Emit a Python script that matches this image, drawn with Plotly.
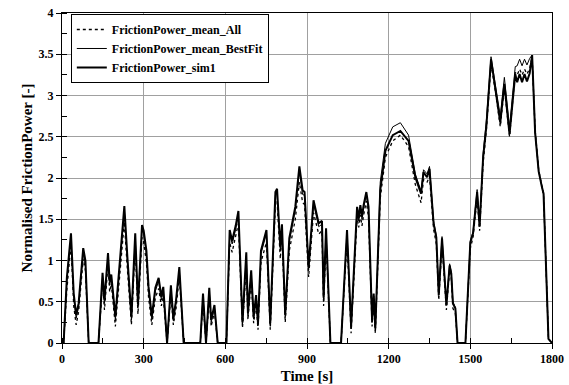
import plotly.graph_objects as go

time_s = [0, 6, 18, 33, 43, 52, 61, 78, 86, 98, 134, 149, 156, 169, 175, 181, 196, 212, 229, 240,
          255, 269, 279, 294, 300, 310, 318, 330, 343, 355, 365, 372, 386, 400, 409, 419, 431, 447, 508, 518,
          529, 541, 548, 560, 572, 604, 616, 625, 638, 648, 663, 677, 683, 695, 704, 713, 720, 731, 751, 765,
          784, 790, 802, 808, 820, 835, 857, 872, 884, 891, 906, 924, 943, 955, 961, 970, 986, 1025, 1047, 1062,
          1084, 1090, 1096, 1102, 1108, 1118, 1126, 1139, 1145, 1151, 1169, 1188, 1215, 1243, 1273, 1298, 1319, 1328, 1341, 1350,
          1365, 1375, 1384, 1396, 1412, 1424, 1430, 1436, 1445, 1453, 1482, 1500, 1510, 1525, 1534, 1547, 1559, 1576, 1592, 1610,
          1625, 1644, 1665, 1672, 1681, 1690, 1699, 1708, 1718, 1727, 1738, 1751, 1763, 1769, 1787, 1800]

sim1 = [0, 0, 0.80, 1.33, 0.60, 0.34, 0.48, 1.15, 1.00, 0, 0, 0.85, 0.52, 1.09, 0.75, 0.83, 0.32, 0.95, 1.66, 1.05,
        0.32, 1.33, 0.47, 1.43, 1.36, 1.12, 0.68, 0.32, 0.67, 0.79, 0.56, 0.68, 0, 0.70, 0.30, 0.52, 0.92, 0, 0, 0.60,
        0, 0.67, 0.28, 0.46, 0, 0, 1.37, 1.24, 1.42, 1.60, 0.25, 1.10, 0.36, 0.88, 0.32, 0.58, 0.24, 1.12, 1.37, 0.24,
        1.83, 1.87, 1.16, 1.44, 0.34, 1.27, 1.65, 2.14, 1.85, 1.83, 0.92, 1.73, 1.45, 1.48, 0.55, 1.39, 0, 0, 1.37, 0.20,
        1.65, 1.51, 1.67, 1.53, 1.67, 1.83, 1.65, 0.28, 0.60, 0.18, 1.85, 2.33, 2.52, 2.57, 2.45, 2.01, 1.81, 2.07, 2.01, 2.11,
        1.45, 1.28, 0.58, 1.27, 0.46, 0.94, 0.84, 0.48, 0.42, 0, 0, 1.22, 1.33, 1.83, 1.41, 2.25, 2.63, 3.44, 3.08, 2.67,
        3.14, 2.53, 3.26, 3.16, 3.26, 3.16, 3.26, 3.17, 3.27, 3.49, 2.55, 2.08, 1.89, 1.81, 0.05, 0]

mean_all = [0, 0, 0.65, 1.20, 0.45, 0.22, 0.38, 1.02, 0.88, 0, 0, 0.72, 0.40, 0.95, 0.62, 0.72, 0.20, 0.80, 1.47, 0.90,
            0.22, 1.18, 0.35, 1.28, 1.22, 0.98, 0.55, 0.22, 0.55, 0.66, 0.45, 0.56, 0, 0.58, 0.22, 0.42, 0.80, 0, 0, 0.50,
            0, 0.56, 0.20, 0.38, 0, 0, 1.22, 1.10, 1.28, 1.45, 0.18, 0.95, 0.28, 0.76, 0.24, 0.48, 0.16, 0.98, 1.22, 0.16,
            1.68, 1.72, 1.02, 1.30, 0.25, 1.12, 1.50, 1.95, 1.70, 1.68, 0.80, 1.58, 1.32, 1.36, 0.45, 1.26, 0, 0, 1.25, 0.12,
            1.52, 1.40, 1.55, 1.42, 1.55, 1.72, 1.52, 0.20, 0.50, 0.12, 1.75, 2.25, 2.45, 2.52, 2.38, 1.92, 1.70, 1.98, 1.95, 2.02,
            1.38, 1.20, 0.52, 1.20, 0.40, 0.88, 0.78, 0.42, 0.36, 0, 0, 1.15, 1.28, 1.76, 1.36, 2.18, 2.58, 3.38, 3.05, 2.62,
            3.10, 2.50, 3.28, 3.25, 3.32, 3.25, 3.32, 3.26, 3.33, 3.46, 2.58, 2.10, 1.90, 1.80, 0.05, 0]

mean_bestfit = [0, 0, 0.75, 1.28, 0.55, 0.30, 0.44, 1.10, 0.95, 0, 0, 0.80, 0.48, 1.04, 0.70, 0.79, 0.28, 0.90, 1.60, 1.00,
                0.28, 1.28, 0.43, 1.38, 1.32, 1.08, 0.64, 0.28, 0.63, 0.75, 0.52, 0.64, 0, 0.66, 0.27, 0.49, 0.88, 0, 0, 0.57,
                0, 0.63, 0.25, 0.43, 0, 0, 1.33, 1.20, 1.38, 1.56, 0.22, 1.06, 0.33, 0.84, 0.29, 0.55, 0.21, 1.08, 1.33, 0.21,
                1.79, 1.83, 1.12, 1.40, 0.31, 1.23, 1.61, 2.08, 1.80, 1.79, 0.88, 1.69, 1.41, 1.44, 0.51, 1.35, 0, 0, 1.34, 0.17,
                1.62, 1.48, 1.64, 1.50, 1.64, 1.80, 1.62, 0.25, 0.57, 0.15, 1.95, 2.42, 2.62, 2.67, 2.52, 2.05, 1.84, 2.10, 2.05, 2.14,
                1.48, 1.30, 0.60, 1.29, 0.47, 0.96, 0.86, 0.50, 0.43, 0, 0, 1.24, 1.35, 1.86, 1.44, 2.30, 2.70, 3.47, 3.15, 2.75,
                3.22, 2.62, 3.35, 3.36, 3.44, 3.36, 3.44, 3.37, 3.45, 3.49, 2.56, 2.09, 1.89, 1.81, 0.05, 0]

series_names = ["FrictionPower_mean_All", "FrictionPower_mean_BestFit", "FrictionPower_sim1"]
x_ticks = [0, 300, 600, 900, 1200, 1500, 1800]
y_ticks = [0, 0.5, 1, 1.5, 2, 2.5, 3, 3.5, 4]

FONT = "Liberation Serif"

fig = go.Figure()
fig.add_trace(go.Scatter(x=time_s, y=mean_all, mode="lines", name=series_names[0],
                         line=dict(color="black", width=1.3, dash="dot")))
fig.add_trace(go.Scatter(x=time_s, y=mean_bestfit, mode="lines", name=series_names[1],
                         line=dict(color="black", width=1)))
fig.add_trace(go.Scatter(x=time_s, y=sim1, mode="lines", name=series_names[2],
                         line=dict(color="black", width=2)))

axis_common = dict(showline=True, linecolor="black", linewidth=1, mirror=True,
                   showgrid=True, gridcolor="#a0a0a0", gridwidth=1, zeroline=False,
                   ticks="outside", ticklen=5, tickcolor="black", automargin=False,
                   tickfont=dict(family=FONT, size=12, color="black", weight="bold"))

fig.update_xaxes(range=[0, 1800], tickvals=x_ticks, ticktext=[str(v) for v in x_ticks],
                 minor=dict(dtick=150, tick0=0, ticks="inside", ticklen=5, tickcolor="black", showgrid=False),
                 title=dict(text="<b>Time [s]</b>", font=dict(family=FONT, size=15, color="black"), standoff=5),
                 **axis_common)
fig.update_yaxes(range=[0, 4], tickvals=y_ticks, ticktext=["0", "0.5", "1", "1.5", "2", "2.5", "3", "3.5", "4"],
                 minor=dict(dtick=0.25, tick0=0, ticks="inside", ticklen=5, tickcolor="black", showgrid=False),
                 title=dict(text="<b>Normalised FrictionPower [-]</b>", font=dict(family=FONT, size=15, color="black"), standoff=2),
                 **axis_common)

fig.update_layout(
    width=569, height=385,
    margin=dict(l=62, r=17, t=13, b=42, autoexpand=False),
    paper_bgcolor="white", plot_bgcolor="white",
    legend=dict(x=0.018, y=0.997, xanchor="left", yanchor="top",
                bgcolor="white", bordercolor="black", borderwidth=1,
                font=dict(family=FONT, size=12, color="black", weight="bold"),
                tracegroupgap=0, itemwidth=30),
    showlegend=True,
)

fig.write_html("out.html")
